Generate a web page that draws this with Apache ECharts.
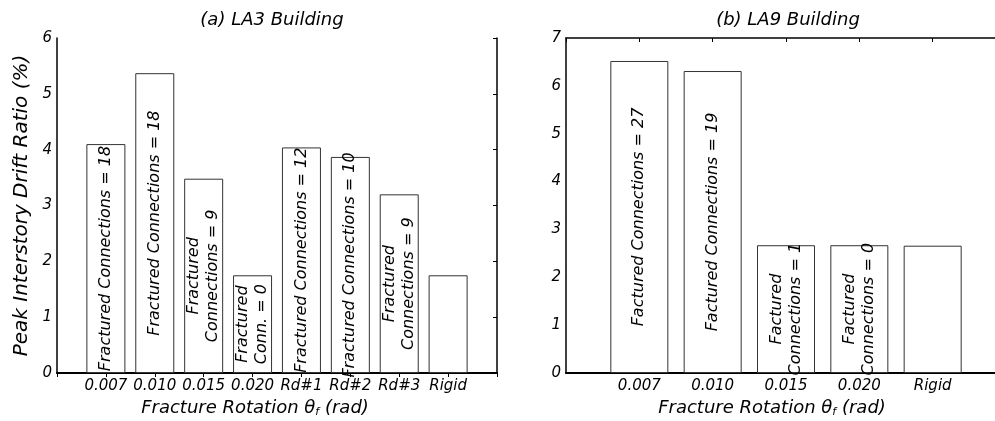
<!DOCTYPE html>
<html><head><meta charset="utf-8">
<script src="https://cdn.jsdelivr.net/npm/echarts@6/dist/echarts.min.js"></script>
<style>html,body{margin:0;padding:0;background:#fff}#c{width:995px;height:421px}</style>
</head><body><div id="c"></div>
<script>
// ---- data ----
const catsA = ['0.007', '0.010', '0.015', '0.020', 'Rd#1', 'Rd#2', 'Rd#3', 'Rigid'];
const valsA = [4.10, 5.37, 3.48, 1.75, 4.04, 3.87, 3.20, 1.75];
const labelsA = ['Fractured Connections = 18', 'Fractured Connections = 18', 'Fractured\nConnections = 9', 'Fractured\nConn. = 0',
                 'Fractured Connections = 12', 'Fractured Connections = 10', 'Fractured\nConnections = 9', ''];
const catsB = ['0.007', '0.010', '0.015', '0.020', 'Rigid'];
const valsB = [6.52, 6.31, 2.67, 2.67, 2.66];
const labelsB = ['Factured Connections = 27', 'Factured Connections = 19', 'Factured\nConnections = 1', 'Factured\nConnections = 0', ''];
const yMaxA = 6, yMaxB = 7;
const titleA = '(a) LA3 Building', titleB = '(b) LA9 Building';
const yName = 'Peak Interstory Drift Ratio (%)';
const xName = 'Fracture Rotation θ{sub|f} (rad)';

// ---- build ----
const FONT = 'DejaVu Sans';
const pad = a => [''].concat(a).concat(['']);
const seriesData = (vals, labels) => ['-'].concat(vals.map((v, i) => ({ value: v, label: { formatter: labels[i] } }))).concat(['-']);

function xAxes(grid, cats, nameShift) {
  return [
    {
      type: 'category', gridIndex: grid, data: pad(cats), boundaryGap: false, position: 'bottom',
      axisLine: { lineStyle: { color: '#000', width: 2 } },
      axisTick: { show: false },
      axisLabel: { interval: 0, margin: 6, color: '#000', fontSize: 15, fontStyle: 'italic', fontFamily: FONT },
      name: xName, nameLocation: 'middle', nameGap: 26,
      nameTextStyle: {
        color: '#000', fontSize: 18, fontStyle: 'italic', fontFamily: FONT,
        padding: [0, nameShift * 2, 0, 0],
        rich: { sub: { fontSize: 11, fontStyle: 'italic', fontFamily: FONT, color: '#000', padding: [8, 0, 0, 0] } }
      },
      splitLine: { show: false }
    },
    {
      type: 'category', gridIndex: grid, data: pad(cats), boundaryGap: false, position: 'top',
      axisLine: { lineStyle: { color: '#000', width: 1.5 } },
      axisTick: { show: true, inside: true, length: 4, interval: 0, lineStyle: { color: '#000', width: 1 } },
      axisLabel: { show: false },
      splitLine: { show: false }
    }
  ];
}

function yAxes(grid, max, name, withRight) {
  const a = [{
    type: 'value', gridIndex: grid, min: 0, max: max, interval: 1, position: 'left',
    axisLine: { show: true, lineStyle: { color: '#000', width: 1.5 } },
    axisTick: { show: false },
    splitLine: { show: false },
    axisLabel: { margin: 5, color: '#000', fontSize: 15, fontStyle: 'italic', fontFamily: FONT },
    name: name, nameLocation: 'middle', nameGap: 25,
    nameTextStyle: { color: '#000', fontSize: 20, fontStyle: 'italic', fontFamily: FONT }
  }];
  if (withRight) a.push({
    type: 'value', gridIndex: grid, min: 0, max: max, interval: 1, position: 'right',
    axisLine: { show: true, lineStyle: { color: '#000', width: 1.5 } },
    axisTick: { show: true, inside: true, length: 4, lineStyle: { color: '#000' } },
    splitLine: { show: false }, axisLabel: { show: false }
  });
  return a;
}

const barLabel = {
  show: true, position: 'inside', rotate: 90, color: '#000',
  fontSize: 16, fontStyle: 'italic', fontFamily: FONT, lineHeight: 19
};
const barStyle = { color: '#fff', borderColor: '#333', borderWidth: 1 };

const yA = yAxes(0, yMaxA, yName, true);
const yB = yAxes(1, yMaxB, '', false);

const option = {
  animation: false,
  backgroundColor: '#fff',
  grid: [
    { left: 57, top: 38, width: 440, height: 335, outerBoundsMode: 'none', containLabel: false },
    { left: 566, top: 38, width: 440, height: 335, outerBoundsMode: 'none', containLabel: false }
  ],
  xAxis: xAxes(0, catsA, 22).concat(xAxes(1, catsB, 14)),
  yAxis: yA.concat(yB),
  graphic: [
    { type: 'text', x: 272, y: 20, style: { text: titleA, textAlign: 'center', textVerticalAlign: 'middle', fill: '#000', font: 'italic 18px "DejaVu Sans"' } },
    { type: 'text', x: 788, y: 20, style: { text: titleB, textAlign: 'center', textVerticalAlign: 'middle', fill: '#000', font: 'italic 18px "DejaVu Sans"' } }
  ],
  series: [
    { type: 'bar', xAxisIndex: 0, yAxisIndex: 0, barWidth: 39, data: seriesData(valsA, labelsA), itemStyle: barStyle, label: barLabel },
    { type: 'bar', xAxisIndex: 2, yAxisIndex: 2, barWidth: 58, data: seriesData(valsB, labelsB), itemStyle: barStyle, label: barLabel }
  ]
};
const chart = echarts.init(document.getElementById('c'), null, { renderer: 'canvas' });
chart.setOption(option);
</script>
</body></html>
